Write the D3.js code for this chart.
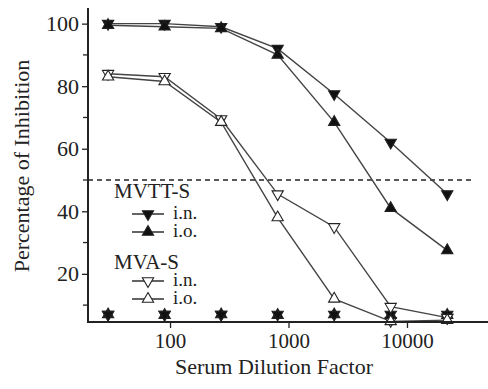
<!DOCTYPE html>
<html>
<head>
<meta charset="utf-8">
<script src="https://cdn.jsdelivr.net/npm/d3@7"></script>
</head>
<body style="margin:0;background:#fff">
<script>
// serum dilutions (3-fold series)
const dilutions = [30, 90, 270, 810, 2430, 7290, 21870];

// percentage of inhibition
const mvttIn = [100, 100, 99, 92, 77.5, 62, 45.5];
const mvttIo = [99.5, 99, 98.5, 90, 68.5, 41, 27.5];
const mvaIn = [84, 83, 69.5, 45.5, 35, 9.5, 6];
const mvaIo = [83, 81.5, 68.5, 38, 12, 4.8, 5.2];

// unlabelled control markers along the bottom
const ctrlOpen = [7, 7, 7, null, null, 5, 6];
const ctrlDown = [7, 7, 7, 7, 7, 7, 7];
const ctrlUp = [7, 6.8, 7, 6.8, 7, 6.8, 6.8];

const xTicks = [100, 1000, 10000];
const yTicks = [20, 40, 60, 80, 100];
const yMinor = [10, 30, 50, 70, 90];
const cutoff = 50;

const fontName = 'Liberation Serif';
const ink = '#222';
const box = { width: 488, height: 389, left: 88, right: 488, top: 8, bottom: 322 };

const svg = d3.select('body')
  .append('svg')
  .attr('width', box.width)
  .attr('height', box.height)
  .attr('font-family', fontName)

const x = d3.scaleLog().domain([20.3, 48300]).range([box.left, box.right]);
const y = d3.scaleLinear().domain([4.6, 105]).range([box.bottom, box.top]);

const series = [
  { values: mvttIn, fill: '#111', down: true },
  { values: mvttIo, fill: '#111', down: false },
  { values: mvaIn, fill: '#fff', down: true },
  { values: mvaIo, fill: '#fff', down: false }
];
const controls = [
  { values: ctrlOpen, fill: '#fff', down: true },
  { values: ctrlUp, fill: '#111', down: false },
  { values: ctrlDown, fill: '#111', down: true }
];

const tri = d3.symbol().type(d3.symbolTriangle).size(55);
const line = d3.line()
  .defined(d => d[1] != null)
  .x(d => x(d[0]))
  .y(d => y(d[1]));

function label(sel, size) {
  sel.nodes().forEach(n => {
    n.setAttribute('font-family', fontName)
    n.setAttribute('font-size', size)
  })
  return sel.attr('fill', ink)
}

// dashed 50% line
svg.append('line')
  .attr('x1', box.left).attr('x2', 473)
  .attr('y1', y(cutoff)).attr('y2', y(cutoff))
  .attr('stroke', ink)
  .attr('stroke-width', 1.5)
  .attr('stroke-dasharray', '5,4')

// series lines
series.forEach(s => {
  svg.append('path')
    .datum(dilutions.map((d, i) => [d, s.values[i]]))
    .attr('d', line)
    .attr('fill', 'none')
    .attr('stroke', '#444')
    .attr('stroke-width', 1.4)
})

function markers(s) {
  svg.append('g')
    .selectAll('path')
    .data(dilutions.map((d, i) => [d, s.values[i]]).filter(d => d[1] != null))
    .join('path')
    .attr('d', tri)
    .attr('transform', d => `translate(${x(d[0])},${y(d[1])})${s.down ? ' rotate(180)' : ''}`)
    .attr('fill', s.fill)
    .attr('stroke', ink)
    .attr('stroke-width', 1.1)
}
controls.forEach(markers)
series.forEach(markers)

// axes
const yAxis = svg.append('g')
  .attr('transform', `translate(${box.left},0)`)
  .call(d3.axisLeft(y).tickValues(yTicks).tickSize(6).tickPadding(3).tickFormat(d3.format('d')))
  .attr('font-family', fontName)
  .attr('font-size', 22)
yAxis.select('.domain').remove()
yAxis.selectAll('.tick line').attr('stroke', ink).attr('stroke-width', 1.3)
label(yAxis.selectAll('.tick text'), 22)
yAxis.selectAll('.minor')
  .data(yMinor)
  .join('line')
  .attr('x1', -5).attr('x2', 0)
  .attr('y1', d => y(d)).attr('y2', d => y(d))
  .attr('stroke', ink).attr('stroke-width', 1.3)

const xAxis = svg.append('g')
  .attr('transform', `translate(0,${box.bottom})`)
  .call(d3.axisBottom(x).tickValues(xTicks).tickSize(6).tickPadding(5).tickFormat(d3.format('d')))
  .attr('font-family', fontName)
  .attr('font-size', 21)
xAxis.select('.domain').remove()
xAxis.selectAll('.tick line').attr('stroke', ink).attr('stroke-width', 1.3)
label(xAxis.selectAll('.tick text'), 21)

svg.append('line')
  .attr('x1', box.left).attr('x2', box.left)
  .attr('y1', box.top).attr('y2', box.bottom + 1)
  .attr('stroke', ink).attr('stroke-width', 2)
svg.append('line')
  .attr('x1', box.left - 1).attr('x2', box.right)
  .attr('y1', box.bottom).attr('y2', box.bottom)
  .attr('stroke', ink).attr('stroke-width', 2)

// axis titles
label(svg.append('text'), 22)
  .attr('x', 274).attr('y', 374)
  .attr('text-anchor', 'middle')
  .text('Serum Dilution Factor')

label(svg.append('text'), 22)
  .attr('transform', 'translate(29,166) rotate(-90)')
  .attr('text-anchor', 'middle')
  .text('Percentage of Inhibition')

// legend
const legend = [
  { title: 'MVTT-S', y: 191, items: [
    { label: 'i.n.', y: 214, fill: '#111', down: true },
    { label: 'i.o.', y: 232, fill: '#111', down: false }
  ] },
  { title: 'MVA-S', y: 262, items: [
    { label: 'i.n.', y: 281, fill: '#fff', down: true },
    { label: 'i.o.', y: 299, fill: '#fff', down: false }
  ] }
];
legend.forEach(g => {
  label(svg.append('text'), 21)
    .attr('x', 114).attr('y', g.y + 7)
    .text(g.title)
  g.items.forEach(it => {
    svg.append('line')
      .attr('x1', 132).attr('x2', 164)
      .attr('y1', it.y).attr('y2', it.y)
      .attr('stroke', ink).attr('stroke-width', 1.4)
    svg.append('path')
      .attr('d', tri)
      .attr('transform', `translate(148,${it.y})${it.down ? ' rotate(180)' : ''}`)
      .attr('fill', it.fill)
      .attr('stroke', ink)
      .attr('stroke-width', 1.1)
    label(svg.append('text'), 19)
      .attr('x', 173).attr('y', it.y + 5)
      .text(it.label)
  })
})
</script>
</body>
</html>
